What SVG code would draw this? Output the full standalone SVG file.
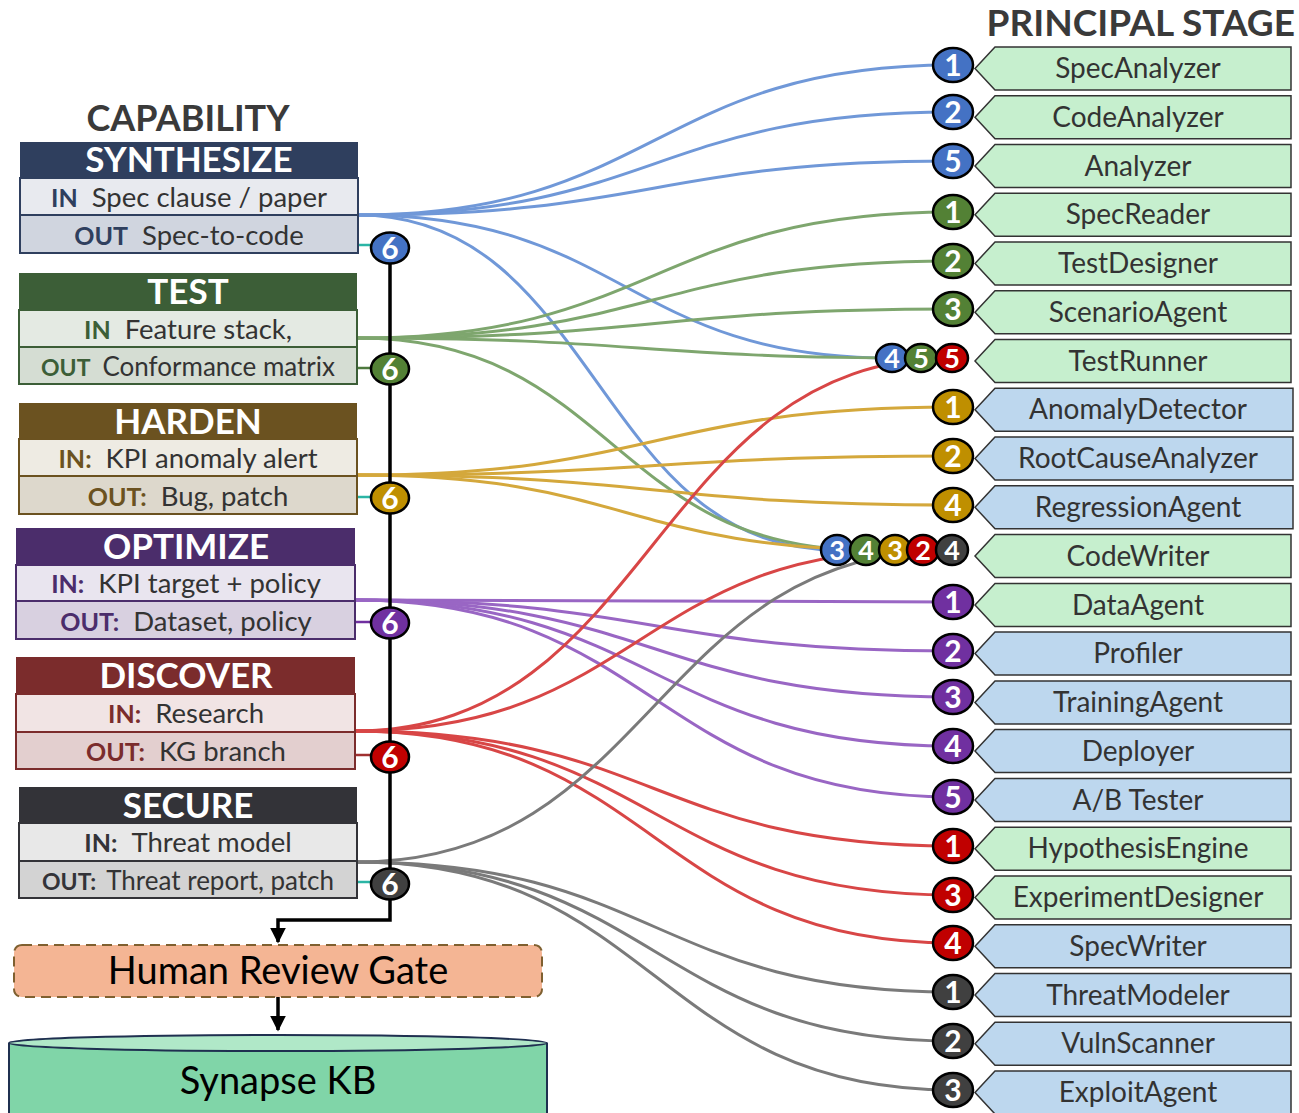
<svg xmlns="http://www.w3.org/2000/svg" width="1299" height="1113" viewBox="0 0 1299 1113">
<style>
  text { font-family: Lato, "Open Sans", "Liberation Sans", sans-serif; }
  .title { font-size: 36px; font-weight: bold; fill: #3a3a3a; }
  .hdr { font-size: 35px; font-weight: bold; fill: #ffffff; text-anchor: middle; }
  .row { font-size: 27.5px; fill: #333333; text-anchor: middle; }
  .row tspan.k { font-weight: bold; font-size: 25px; }
  .row.long { font-size: 26px; }
  .row.long tspan.k { font-size: 23px; }
  .stage { stroke: #333333; stroke-width: 1.5; }
  .g { fill: #c6efce; }
  .b { fill: #bdd7ee; }
  .slbl { font-size: 28px; fill: #333333; text-anchor: middle; }
  .bdg { stroke: #000000; stroke-width: 2.5; }
  .bnum { font-weight: bold; fill: #ffffff; text-anchor: middle; }
  .big { font-size: 30px; }
  .sm { font-size: 27px; }
  .fan { fill: none; stroke-width: 3; }
  .c-syn { stroke: #7098d8; }
  .c-tst { stroke: #7ea66e; }
  .c-hrd { stroke: #d4a83c; }
  .c-opt { stroke: #9966c4; }
  .c-dis { stroke: #d84646; }
  .c-sec { stroke: #7a7a7a; }
  .flow { fill: none; stroke: #000000; stroke-width: 3.5; }
  .big-lbl { font-size: 38px; fill: #000000; text-anchor: middle; }
</style>
<defs>
  <marker id="arrow" viewBox="0 0 10 10" refX="9" refY="5" markerWidth="4.5" markerHeight="4.5" orient="auto" markerUnits="strokeWidth">
    <path d="M0,0 L10,5 L0,10 z" fill="#000000"/>
  </marker>
</defs>

<!-- column titles -->
<text class="title" x="188" y="131" text-anchor="middle">CAPABILITY</text>
<text class="title" x="1295" y="36" text-anchor="end" style="font-size:37px">PRINCIPAL STAGE</text>

<!-- connectors -->
<g id="connectors">
  <!-- SYNTHESIZE fan -->
  <path class="fan c-syn" d="M358,215 C655,215 655,65 953,65"/>
  <path class="fan c-syn" d="M358,215 C655,215 655,112 953,112"/>
  <path class="fan c-syn" d="M358,215 C655,215 655,161 953,161"/>
  <path class="fan c-syn" d="M358,215 C625,215 625,358 892,358"/>
  <path class="fan c-syn" d="M358,215 C597,215 597,550 837,550"/>
  <!-- TEST fan -->
  <path class="fan c-tst" d="M358,338 C655,338 655,212 953,212"/>
  <path class="fan c-tst" d="M358,338 C655,338 655,261 953,261"/>
  <path class="fan c-tst" d="M358,338 C655,338 655,309 953,309"/>
  <path class="fan c-tst" d="M358,338 C639,338 639,358 920,358"/>
  <path class="fan c-tst" d="M358,338 C612,338 612,550 867,550"/>
  <!-- HARDEN fan -->
  <path class="fan c-hrd" d="M358,475 C655,475 655,407 953,407"/>
  <path class="fan c-hrd" d="M358,475 C655,475 655,456 953,456"/>
  <path class="fan c-hrd" d="M358,475 C655,475 655,505 953,505"/>
  <path class="fan c-hrd" d="M358,475 C626,475 626,550 895,550"/>
  <!-- OPTIMIZE fan -->
  <path class="fan c-opt" d="M355,600 C654,600 654,602 953,602"/>
  <path class="fan c-opt" d="M355,600 C654,600 654,651 953,651"/>
  <path class="fan c-opt" d="M355,600 C654,600 654,697 953,697"/>
  <path class="fan c-opt" d="M355,600 C654,600 654,746 953,746"/>
  <path class="fan c-opt" d="M355,600 C654,600 654,797 953,797"/>
  <!-- DISCOVER fan -->
  <path class="fan c-dis" d="M355,731 C653,731 653,358 952,358"/>
  <path class="fan c-dis" d="M355,731 C639,731 639,550 923,550"/>
  <path class="fan c-dis" d="M355,731 C654,731 654,846 953,846"/>
  <path class="fan c-dis" d="M355,731 C654,731 654,895 953,895"/>
  <path class="fan c-dis" d="M355,731 C654,731 654,943 953,943"/>
  <!-- SECURE fan -->
  <path class="fan c-sec" d="M357,862 C654,862 654,550 952,550"/>
  <path class="fan c-sec" d="M357,862 C655,862 655,992 953,992"/>
  <path class="fan c-sec" d="M357,862 C655,862 655,1041 953,1041"/>
  <path class="fan c-sec" d="M357,862 C655,862 655,1090 953,1090"/>

  <!-- ticks from each OUT row to its closing badge -->
  <line x1="358" y1="245" x2="372" y2="245" stroke="#2bb5a5" stroke-width="2.5"/>
  <line x1="357" y1="368" x2="372" y2="368" stroke="#4e7a3e" stroke-width="2.5"/>
  <line x1="357" y1="497" x2="372" y2="497" stroke="#2bb5a5" stroke-width="2.5"/>
  <line x1="355" y1="622" x2="372" y2="622" stroke="#7030a0" stroke-width="2.5"/>
  <line x1="355" y1="755" x2="372" y2="755" stroke="#a03030" stroke-width="2.5"/>
  <line x1="357" y1="882" x2="372" y2="882" stroke="#2bb5a5" stroke-width="2.5"/>

  <!-- collector spine to the review gate -->
  <polyline class="flow" points="390,247 390,920 278,920 278,942" marker-end="url(#arrow)"/>
  <line class="flow" x1="278" y1="997" x2="278" y2="1030" marker-end="url(#arrow)"/>
</g>

<!-- capability cards -->
<g id="cap-synthesize">
  <rect x="20" y="142" width="338" height="36" fill="#2f3f5e"/>
  <rect x="20" y="178" width="338" height="37" fill="#e8eaef" stroke="#2f3f5e" stroke-width="2"/>
  <rect x="20" y="215" width="338" height="38" fill="#d0d5df" stroke="#2f3f5e" stroke-width="2"/>
  <text class="hdr" x="189" y="172">SYNTHESIZE</text>
  <text class="row" x="189" y="207"><tspan class="k" fill="#2f3f5e">IN</tspan><tspan dx="14">Spec clause / paper</tspan></text>
  <text class="row" x="189" y="245"><tspan class="k" fill="#2f3f5e">OUT</tspan><tspan dx="14">Spec-to-code</tspan></text>
</g>

<g id="cap-test">
  <rect x="19" y="273" width="338" height="37" fill="#3c5e37"/>
  <rect x="19" y="310" width="338" height="37" fill="#e4eae3" stroke="#3c5e37" stroke-width="2"/>
  <rect x="19" y="347" width="338" height="37" fill="#d5ddd3" stroke="#3c5e37" stroke-width="2"/>
  <text class="hdr" x="188" y="304">TEST</text>
  <text class="row" x="188" y="339"><tspan class="k" fill="#3c5e37">IN</tspan><tspan dx="14">Feature stack,</tspan></text>
  <text class="row long" x="188" y="376"><tspan class="k" fill="#3c5e37">OUT</tspan><tspan dx="12">Conformance matrix</tspan></text>
</g>

<g id="cap-harden">
  <rect x="19" y="403" width="338" height="36" fill="#6b5220"/>
  <rect x="19" y="439" width="338" height="37" fill="#eeebe3" stroke="#6b5220" stroke-width="2"/>
  <rect x="19" y="476" width="338" height="38" fill="#ddd8cc" stroke="#6b5220" stroke-width="2"/>
  <text class="hdr" x="188" y="434">HARDEN</text>
  <text class="row" x="188" y="468"><tspan class="k" fill="#6b5220">IN:</tspan><tspan dx="14">KPI anomaly alert</tspan></text>
  <text class="row" x="188" y="506"><tspan class="k" fill="#6b5220">OUT:</tspan><tspan dx="14">Bug, patch</tspan></text>
</g>

<g id="cap-optimize">
  <rect x="16" y="528" width="339" height="37" fill="#4b2d6b"/>
  <rect x="16" y="565" width="339" height="36" fill="#e9e5ef" stroke="#4b2d6b" stroke-width="2"/>
  <rect x="16" y="601" width="339" height="38" fill="#d8d0e0" stroke="#4b2d6b" stroke-width="2"/>
  <text class="hdr" x="186" y="559">OPTIMIZE</text>
  <text class="row" x="186" y="593"><tspan class="k" fill="#4b2d6b">IN:</tspan><tspan dx="14">KPI target + policy</tspan></text>
  <text class="row" x="186" y="631"><tspan class="k" fill="#4b2d6b">OUT:</tspan><tspan dx="14">Dataset, policy</tspan></text>
</g>

<g id="cap-discover">
  <rect x="16" y="657" width="339" height="37" fill="#7b2c2c"/>
  <rect x="16" y="694" width="339" height="38" fill="#f1e4e4" stroke="#7b2c2c" stroke-width="2"/>
  <rect x="16" y="732" width="339" height="37" fill="#e3cfcf" stroke="#7b2c2c" stroke-width="2"/>
  <text class="hdr" x="186" y="688">DISCOVER</text>
  <text class="row" x="186" y="723"><tspan class="k" fill="#7b2c2c">IN:</tspan><tspan dx="14">Research</tspan></text>
  <text class="row" x="186" y="761"><tspan class="k" fill="#7b2c2c">OUT:</tspan><tspan dx="14">KG branch</tspan></text>
</g>

<g id="cap-secure">
  <rect x="19" y="787" width="338" height="36" fill="#333338"/>
  <rect x="19" y="823" width="338" height="38" fill="#e8e8e8" stroke="#333338" stroke-width="2"/>
  <rect x="19" y="861" width="338" height="37" fill="#d3d3d3" stroke="#333338" stroke-width="2"/>
  <text class="hdr" x="188" y="818">SECURE</text>
  <text class="row" x="188" y="852"><tspan class="k" fill="#333338">IN:</tspan><tspan dx="14">Threat model</tspan></text>
  <text class="row long" x="188" y="890"><tspan class="k" fill="#333338">OUT:</tspan><tspan dx="10">Threat report, patch</tspan></text>
</g>

<!-- closing badges on the spine -->
<g id="spine-badges">
  <ellipse class="bdg" cx="390" cy="248" rx="19" ry="15.5" fill="#4472c4"/><text class="bnum big" x="390" y="259">6</text>
  <ellipse class="bdg" cx="390" cy="369" rx="19" ry="15.5" fill="#538135"/><text class="bnum big" x="390" y="380">6</text>
  <ellipse class="bdg" cx="390" cy="498" rx="19" ry="15.5" fill="#bf8f00"/><text class="bnum big" x="390" y="509">6</text>
  <ellipse class="bdg" cx="390" cy="623" rx="19" ry="15.5" fill="#7030a0"/><text class="bnum big" x="390" y="634">6</text>
  <ellipse class="bdg" cx="390" cy="757" rx="19" ry="15.5" fill="#c00000"/><text class="bnum big" x="390" y="768">6</text>
  <ellipse class="bdg" cx="390" cy="884" rx="19" ry="15.5" fill="#404040"/><text class="bnum big" x="390" y="895">6</text>
</g>

<!-- review gate and knowledge base -->
<g id="review-gate">
  <rect x="14" y="945" width="528" height="52" rx="8" fill="#f4b594" stroke="#7f6030" stroke-width="2" stroke-dasharray="10 6"/>
  <text class="big-lbl" x="278" y="984">Human Review Gate</text>
</g>
<g id="synapse-kb">
  <path d="M9,1043 L9,1120 L547,1120 L547,1043" fill="#80d5a8" stroke="#1f3050" stroke-width="2"/>
  <ellipse cx="278" cy="1043" rx="269" ry="8" fill="#b0e8c8" stroke="#1f3050" stroke-width="2"/>
  <text class="big-lbl" x="278" y="1094">Synapse KB</text>
</g>

<!-- principal stages -->
<g id="stage-specanalyzer"><polygon class="stage g" points="975,68.5 995,47 1291,47 1291,90 995,90"/><text class="slbl" x="1138" y="78">SpecAnalyzer</text>
  <ellipse class="bdg" cx="953" cy="65" rx="20" ry="17" fill="#4472c4"/><text class="bnum big" x="953" y="76">1</text></g>
<g id="stage-codeanalyzer"><polygon class="stage g" points="975,117.3 995,95.8 1291,95.8 1291,138.8 995,138.8"/><text class="slbl" x="1138" y="127">CodeAnalyzer</text>
  <ellipse class="bdg" cx="953" cy="112" rx="20" ry="17" fill="#4472c4"/><text class="bnum big" x="953" y="123">2</text></g>
<g id="stage-analyzer"><polygon class="stage g" points="975,166 995,144.5 1291,144.5 1291,187.5 995,187.5"/><text class="slbl" x="1138" y="176">Analyzer</text>
  <ellipse class="bdg" cx="953" cy="161" rx="20" ry="17" fill="#4472c4"/><text class="bnum big" x="953" y="172">5</text></g>
<g id="stage-specreader"><polygon class="stage g" points="975,214.8 995,193.3 1291,193.3 1291,236.3 995,236.3"/><text class="slbl" x="1138" y="224">SpecReader</text>
  <ellipse class="bdg" cx="953" cy="212" rx="20" ry="17" fill="#538135"/><text class="bnum big" x="953" y="223">1</text></g>
<g id="stage-testdesigner"><polygon class="stage g" points="975,263.5 995,242 1291,242 1291,285 995,285"/><text class="slbl" x="1138" y="273">TestDesigner</text>
  <ellipse class="bdg" cx="953" cy="261" rx="20" ry="17" fill="#538135"/><text class="bnum big" x="953" y="272">2</text></g>
<g id="stage-scenarioagent"><polygon class="stage g" points="975,312.3 995,290.8 1291,290.8 1291,333.8 995,333.8"/><text class="slbl" x="1138" y="322">ScenarioAgent</text>
  <ellipse class="bdg" cx="953" cy="309" rx="20" ry="17" fill="#538135"/><text class="bnum big" x="953" y="320">3</text></g>
<g id="stage-testrunner"><polygon class="stage g" points="975,361.1 995,339.6 1291,339.6 1291,382.6 995,382.6"/><text class="slbl" x="1138" y="371">TestRunner</text>
  <ellipse class="bdg" cx="892" cy="358" rx="16" ry="14" fill="#4472c4"/><text class="bnum sm" x="892" y="368">4</text>
  <ellipse class="bdg" cx="921" cy="358" rx="16" ry="14" fill="#538135"/><text class="bnum sm" x="921" y="368">5</text>
  <ellipse class="bdg" cx="952" cy="358" rx="16" ry="14" fill="#c00000"/><text class="bnum sm" x="952" y="368">5</text></g>
<g id="stage-anomalydetector"><polygon class="stage b" points="975,409.8 995,388.3 1293,388.3 1293,431.3 995,431.3"/><text class="slbl" x="1138" y="419">AnomalyDetector</text>
  <ellipse class="bdg" cx="953" cy="407" rx="20" ry="17" fill="#bf8f00"/><text class="bnum big" x="953" y="418">1</text></g>
<g id="stage-rootcauseanalyzer"><polygon class="stage b" points="975,458.6 995,437.1 1293,437.1 1293,480.1 995,480.1"/><text class="slbl" x="1138" y="468">RootCauseAnalyzer</text>
  <ellipse class="bdg" cx="953" cy="456" rx="20" ry="17" fill="#bf8f00"/><text class="bnum big" x="953" y="467">2</text></g>
<g id="stage-regressionagent"><polygon class="stage b" points="975,507.3 995,485.8 1293,485.8 1293,528.8 995,528.8"/><text class="slbl" x="1138" y="517">RegressionAgent</text>
  <ellipse class="bdg" cx="953" cy="505" rx="20" ry="17" fill="#bf8f00"/><text class="bnum big" x="953" y="516">4</text></g>
<g id="stage-codewriter"><polygon class="stage g" points="975,556.1 995,534.6 1291,534.6 1291,577.6 995,577.6"/><text class="slbl" x="1138" y="566">CodeWriter</text>
  <ellipse class="bdg" cx="837" cy="550" rx="16" ry="15" fill="#4472c4"/><text class="bnum sm" x="837" y="560">3</text>
  <ellipse class="bdg" cx="866" cy="550" rx="16" ry="15" fill="#538135"/><text class="bnum sm" x="866" y="560">4</text>
  <ellipse class="bdg" cx="895" cy="550" rx="16" ry="15" fill="#bf8f00"/><text class="bnum sm" x="895" y="560">3</text>
  <ellipse class="bdg" cx="923" cy="550" rx="16" ry="15" fill="#c00000"/><text class="bnum sm" x="923" y="560">2</text>
  <ellipse class="bdg" cx="952" cy="550" rx="16" ry="15" fill="#404040"/><text class="bnum sm" x="952" y="560">4</text></g>
<g id="stage-dataagent"><polygon class="stage g" points="975,604.9 995,583.4 1291,583.4 1291,626.4 995,626.4"/><text class="slbl" x="1138" y="615">DataAgent</text>
  <ellipse class="bdg" cx="953" cy="602" rx="20" ry="17" fill="#7030a0"/><text class="bnum big" x="953" y="613">1</text></g>
<g id="stage-profiler"><polygon class="stage b" points="975,653.6 995,632.1 1291,632.1 1291,675.1 995,675.1"/><text class="slbl" x="1138" y="663">Profiler</text>
  <ellipse class="bdg" cx="953" cy="651" rx="20" ry="17" fill="#7030a0"/><text class="bnum big" x="953" y="662">2</text></g>
<g id="stage-trainingagent"><polygon class="stage b" points="975,702.4 995,680.9 1291,680.9 1291,723.9 995,723.9"/><text class="slbl" x="1138" y="712">TrainingAgent</text>
  <ellipse class="bdg" cx="953" cy="697" rx="20" ry="17" fill="#7030a0"/><text class="bnum big" x="953" y="708">3</text></g>
<g id="stage-deployer"><polygon class="stage b" points="975,751.1 995,729.6 1291,729.6 1291,772.6 995,772.6"/><text class="slbl" x="1138" y="761">Deployer</text>
  <ellipse class="bdg" cx="953" cy="746" rx="20" ry="17" fill="#7030a0"/><text class="bnum big" x="953" y="757">4</text></g>
<g id="stage-abtester"><polygon class="stage b" points="975,799.9 995,778.4 1291,778.4 1291,821.4 995,821.4"/><text class="slbl" x="1138" y="810">A/B Tester</text>
  <ellipse class="bdg" cx="953" cy="797" rx="20" ry="17" fill="#7030a0"/><text class="bnum big" x="953" y="808">5</text></g>
<g id="stage-hypothesisengine"><polygon class="stage g" points="975,848.7 995,827.2 1291,827.2 1291,870.2 995,870.2"/><text class="slbl" x="1138" y="858">HypothesisEngine</text>
  <ellipse class="bdg" cx="953" cy="846" rx="20" ry="17" fill="#c00000"/><text class="bnum big" x="953" y="857">1</text></g>
<g id="stage-experimentdesigner"><polygon class="stage g" points="975,897.4 995,875.9 1291,875.9 1291,918.9 995,918.9"/><text class="slbl" x="1138" y="907">ExperimentDesigner</text>
  <ellipse class="bdg" cx="953" cy="895" rx="20" ry="17" fill="#c00000"/><text class="bnum big" x="953" y="906">3</text></g>
<g id="stage-specwriter"><polygon class="stage b" points="975,946.2 995,924.7 1291,924.7 1291,967.7 995,967.7"/><text class="slbl" x="1138" y="956">SpecWriter</text>
  <ellipse class="bdg" cx="953" cy="943" rx="20" ry="17" fill="#c00000"/><text class="bnum big" x="953" y="954">4</text></g>
<g id="stage-threatmodeler"><polygon class="stage b" points="975,994.9 995,973.4 1291,973.4 1291,1016.4 995,1016.4"/><text class="slbl" x="1138" y="1005">ThreatModeler</text>
  <ellipse class="bdg" cx="953" cy="992" rx="20" ry="17" fill="#404040"/><text class="bnum big" x="953" y="1003">1</text></g>
<g id="stage-vulnscanner"><polygon class="stage b" points="975,1043.7 995,1022.2 1291,1022.2 1291,1065.2 995,1065.2"/><text class="slbl" x="1138" y="1053">VulnScanner</text>
  <ellipse class="bdg" cx="953" cy="1041" rx="20" ry="17" fill="#404040"/><text class="bnum big" x="953" y="1052">2</text></g>
<g id="stage-exploitagent"><polygon class="stage b" points="975,1092.5 995,1071 1291,1071 1291,1114 995,1114"/><text class="slbl" x="1138" y="1102">ExploitAgent</text>
  <ellipse class="bdg" cx="953" cy="1090" rx="20" ry="17" fill="#404040"/><text class="bnum big" x="953" y="1101">3</text></g>
</svg>
